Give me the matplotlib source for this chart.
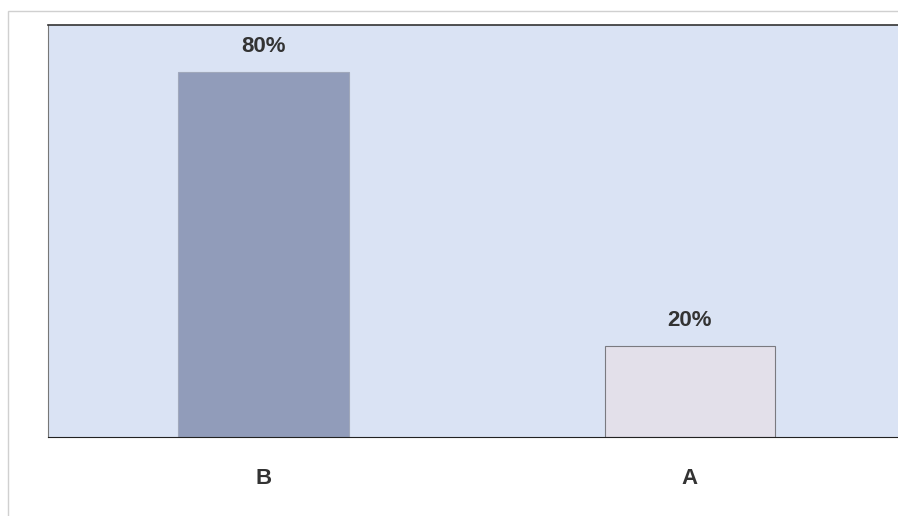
import matplotlib.pyplot as plt
from matplotlib.patches import Rectangle

categories = ['B', 'A']
values = [80, 20]
labels = ['80%', '20%']
bar_colors = ['#919cba', '#e3e0ea']

plt.rcParams['font.family'] = ['Liberation Sans', 'DejaVu Sans']

fig = plt.figure(figsize=(8.98, 5.16), dpi=100)
fig.patch.set_facecolor('white')
# thin outer frame
fig.patches.append(Rectangle((0.009, -0.1), 1.1, 0.079 + 1.0, transform=fig.transFigure,
                             fill=False, edgecolor='#d0d0d0', linewidth=1.0))

ax = fig.add_axes([0.0535, 0.153, 0.9465, 0.7986])
ax.set_facecolor('#dae3f4')

x = range(len(categories))
bars = ax.bar(x, values, width=0.4, color=bar_colors, edgecolor=['#a0a8bb', '#7a7a80'],
              linewidth=0.8)

for b, lab in zip(bars, labels):
    ax.text(b.get_x() + b.get_width() / 2, b.get_height() + 3.3, lab,
            ha='center', va='bottom', fontsize=16, fontweight='bold', color='#333333')

ax.set_xlim(-0.505, 1.488)
ax.set_ylim(0, 90.3)
ax.set_xticks(list(x))
ax.set_xticklabels(categories, fontsize=16, fontweight='bold', color='#333333')
ax.tick_params(axis='x', length=0, pad=22)
ax.set_yticks([])

ax.spines['right'].set_visible(False)
ax.spines['top'].set_color('#333333')
ax.spines['left'].set_color('#777777')
ax.spines['bottom'].set_color('#222222')
ax.spines['top'].set_linewidth(1.2)
ax.spines['left'].set_linewidth(0.8)

fig.savefig('out.png', dpi=100)
